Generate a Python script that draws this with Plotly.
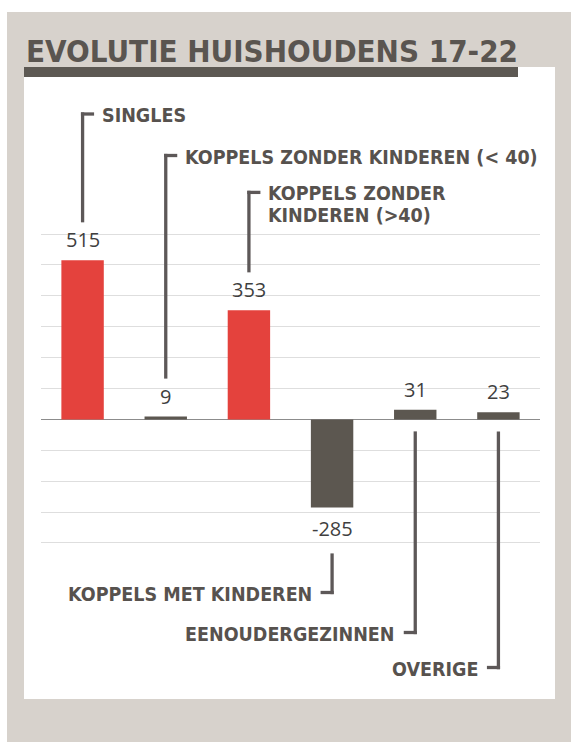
import plotly.graph_objects as go

# ---- data -------------------------------------------------------------
title_text = "EVOLUTIE HUISHOUDENS 17-22"
categories = [
    "SINGLES",
    "KOPPELS ZONDER KINDEREN (< 40)",
    "KOPPELS ZONDER<br>KINDEREN (>40)",
    "KOPPELS MET KINDEREN",
    "EENOUDERGEZINNEN",
    "OVERIGE",
]
values = [515, 9, 353, -285, 31, 23]

# ---- styling ----------------------------------------------------------
W, H = 571, 742
RED = "#e4423d"
DARK = "#5c5750"
BEIGE = "#d7d2cc"
INK = "#57524e"
LEADER = "#5d5858"
NUM = "#3f3f3f"
LABEL_FONT = "DejaVu Sans Condensed"
NUM_FONT = "Open Sans"
bar_colors = [RED, DARK, RED, DARK, DARK, DARK]
callout_side = ["up", "up", "up", "down", "down", "down"]
callout_arm_px = [114, 155.5, 192.4, 592.5, 632.5, 667.5]
LW = 3.3
LINE_PITCH = 22.8

Y_MIN, Y_MAX = -410, 610
M_L, M_R, M_T, M_B = 41, 31, 231, 196
PX_L, PX_R = M_L, W - M_R
PX_T, PX_B = M_T, H - M_B


def pxx(px):
    return (px - PX_L) / (PX_R - PX_L)


def pxy(py):
    return (PX_B - py) / (PX_B - PX_T)


def val_px(v):
    return PX_B - (v - Y_MIN) / (Y_MAX - Y_MIN) * (PX_B - PX_T)


def cat_px(i):
    return PX_L + (i + 0.5) * (PX_R - PX_L) / len(categories)


fig = go.Figure(
    go.Bar(
        x=categories,
        y=values,
        marker=dict(color=bar_colors, line=dict(width=0)),
        hoverinfo="skip",
    )
)

shapes = [
    # beige frame
    dict(type="rect", xref="paper", yref="paper",
         x0=pxx(7), x1=pxx(W + 5), y0=pxy(H + 5), y1=pxy(12),
         fillcolor=BEIGE, line=dict(width=0), layer="below"),
    # white card
    dict(type="rect", xref="paper", yref="paper",
         x0=pxx(24), x1=pxx(555), y0=pxy(699), y1=pxy(67),
         fillcolor="white", line=dict(width=0), layer="below"),
    # title underline bar
    dict(type="rect", xref="paper", yref="paper",
         x0=pxx(24), x1=pxx(518), y0=pxy(77), y1=pxy(67),
         fillcolor="#5d5953", line=dict(width=0), layer="below"),
]

annotations = [
    dict(text=title_text, xref="paper", yref="paper",
         x=pxx(25), y=pxy(50.5), xanchor="left", yanchor="middle",
         showarrow=False, borderpad=0,
         font=dict(family=LABEL_FONT, size=31, color="#5a5550", weight="bold")),
]

# value labels
for cat, v in zip(categories, values):
    if v >= 0:
        annotations.append(dict(text=str(v), x=cat, y=v, xref="x", yref="y",
                                yanchor="bottom", yshift=6, showarrow=False,
                                borderpad=0,
                                font=dict(family=NUM_FONT, size=20, color=NUM)))
    else:
        annotations.append(dict(text=str(v), x=cat, y=v, xref="x", yref="y",
                                yanchor="top", yshift=-7, showarrow=False,
                                borderpad=0,
                                font=dict(family=NUM_FONT, size=20, color=NUM)))

# callout leaders and category labels
line_style = dict(color=LEADER, width=LW)
for i, (cat, v) in enumerate(zip(categories, values)):
    xv = cat_px(i)
    arm = callout_arm_px[i]
    lines = cat.split("<br>")
    first_y = arm + (1.8 if len(lines) == 1 else 0.8)
    if callout_side[i] == "up":
        y_end = val_px(max(v, 0)) - 38
        shapes.append(dict(type="line", xref="paper", yref="paper",
                           x0=pxx(xv), x1=pxx(xv),
                           y0=pxy(arm - LW / 2), y1=pxy(y_end), line=line_style))
        shapes.append(dict(type="line", xref="paper", yref="paper",
                           x0=pxx(xv - LW / 2), x1=pxx(xv + 11.5),
                           y0=pxy(arm), y1=pxy(arm), line=line_style))
        x_text, anchor = xv + 18, "left"
    else:
        y_start = val_px(min(v, 0)) + (46 if v < 0 else 12)
        shapes.append(dict(type="line", xref="paper", yref="paper",
                           x0=pxx(xv), x1=pxx(xv),
                           y0=pxy(y_start), y1=pxy(arm + LW / 2), line=line_style))
        shapes.append(dict(type="line", xref="paper", yref="paper",
                           x0=pxx(xv - 11.5), x1=pxx(xv + LW / 2),
                           y0=pxy(arm), y1=pxy(arm), line=line_style))
        x_text, anchor = xv - 19.5, "right"
    for k, ln in enumerate(lines):
        annotations.append(dict(text=ln, xref="paper", yref="paper",
                                x=pxx(x_text), y=pxy(first_y + LINE_PITCH * k),
                                xanchor=anchor, yanchor="middle",
                                showarrow=False, borderpad=0,
                                font=dict(family=LABEL_FONT, size=19.5,
                                          color=INK, weight="bold")))

fig.update_layout(
    width=W,
    height=H,
    autosize=False,
    margin=dict(l=M_L, r=M_R, t=M_T, b=M_B, pad=0),
    paper_bgcolor="white",
    plot_bgcolor="white",
    showlegend=False,
    bargap=0.49,
    shapes=shapes,
    annotations=annotations,
    xaxis=dict(type="category", range=[-0.5, len(categories) - 0.5],
               showticklabels=False, showgrid=False, zeroline=False,
               showline=False, ticks="", fixedrange=True),
    yaxis=dict(range=[Y_MIN, Y_MAX], tick0=0, dtick=100,
               showticklabels=False, ticks="", showline=False,
               showgrid=True, gridcolor="#dedede", gridwidth=1,
               zeroline=True, zerolinecolor="#8c8c8c", zerolinewidth=1.2,
               fixedrange=True),
)

fig.write_html("out.html", config={"displayModeBar": False})
